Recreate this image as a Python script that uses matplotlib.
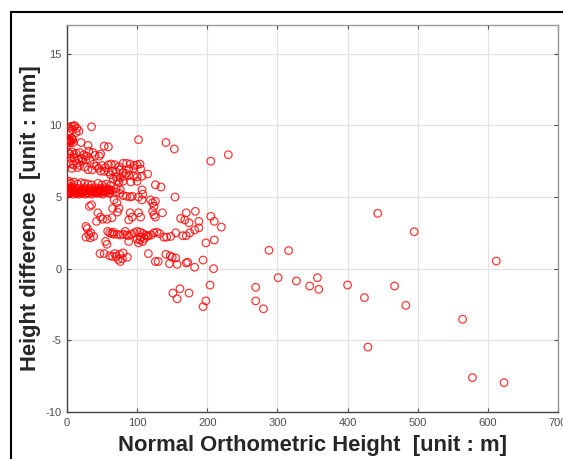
import matplotlib
matplotlib.use("Agg")
import matplotlib.pyplot as plt
from matplotlib.lines import Line2D

plt.rcParams["axes.unicode_minus"] = False

# ---- data: (normal orthometric height [m], height difference [mm]) ----
height_m = [
    # top band ~9.5-10
    3, 6, 9, 11, 14, 8, 13, 17, 4, 35,
    # ~9
    1, 2, 3, 5, 6, 8, 4, 2, 7, 9,
    20, 30, 53, 59, 102, 141, 153,
    # ~8
    2, 4, 7, 10, 13, 18, 24, 31, 37, 40, 46, 48, 28, 21, 16, 10, 4,
    # ~7-7.6
    2, 5, 9, 14, 18, 22, 27, 33, 38, 42, 45, 36, 30, 25, 15, 7,
    50, 55, 59, 63, 68, 74, 80, 85, 90, 96, 100, 104, 95, 88, 105,
    # ~6.6-6.9
    48, 53, 59, 65, 70, 75, 80, 84, 115, 62,
    # ~6.0-6.5
    70, 76, 82, 88, 95, 100, 107, 72, 74, 80, 91, 100, 66,
    # dense band ~5.2-6.0
    1, 3, 6, 10, 15, 20, 25, 30, 35, 44, 50, 56, 62,
    0, 1, 2, 3, 4, 5, 6, 7, 8, 9, 10, 12, 14, 15, 16, 18, 20, 22, 24, 25,
    27, 28, 30, 32, 33, 35, 37, 38, 40, 42, 43, 45, 47, 48, 50, 52, 54, 55,
    57, 58, 60, 62, 0, 2, 4, 6, 9, 11, 13, 17, 19, 21, 23, 26, 29, 31, 34,
    36, 39, 41, 44, 46, 49, 51, 53, 56, 59, 61,
    63, 70, 75, 80, 85, 90, 93, 70, 76,
    107, 108, 107, 102, 126, 134, 119, 122, 126, 124, 154,
    67, 71, 74, 32, 35,
    # ~3.3-4
    44, 48, 51, 57, 64, 65, 72, 42,
    90, 93, 102, 105, 88,
    122, 124, 126, 136,
    162, 168, 174, 183, 170, 188, 205, 210, 220,
    # ~2.2-3
    27, 29, 34, 38, 27, 33, 31,
    58, 61, 64, 67, 72, 76, 80, 85, 88, 92, 96, 100, 104, 108, 112, 116,
    120, 124, 128, 132, 138, 142, 148, 155, 66, 83, 105, 110, 114,
    165, 170, 182, 188, 198, 210, 175,
    55, 57, 88, 102, 104, 100, 108,
    # ~0-1.1
    47, 53, 61, 65, 70, 73, 76, 79, 86, 68, 75, 80, 116, 126, 130,
    141, 147, 150, 155, 146, 157, 170, 172, 182, 194, 209,
    # negatives
    151, 161, 157, 174, 204, 198, 194, 269, 269, 280, 301, 327, 346, 357,
    359, 400, 424, 467, 483, 429, 564, 578, 623,
    # far positives
    205, 230, 288, 316, 443, 495, 612,
]

diff_mm = [
    9.85, 9.93, 9.95, 9.98, 9.8, 9.7, 9.5, 9.6, 9.6, 9.9,
    9.0, 8.9, 9.05, 8.95, 8.85, 9.0, 8.8, 8.75, 9.1, 8.8,
    8.8, 8.6, 8.55, 8.5, 9.0, 8.8, 8.35,
    8.1, 8.0, 8.15, 7.95, 8.05, 8.1, 7.95, 8.2, 8.1, 7.9, 7.85, 8.0, 7.85, 7.7, 7.65, 7.75, 7.7,
    7.4, 7.3, 7.25, 7.35, 7.2, 7.5, 7.6, 7.55, 7.3, 7.15, 7.0, 6.9, 6.9, 7.1, 7.05, 7.0,
    7.2, 7.05, 7.25, 7.3, 7.25, 7.1, 7.35, 7.35, 7.3, 7.2, 7.25, 7.3, 7.0, 6.95, 6.95,
    6.8, 6.8, 6.75, 6.8, 6.75, 6.9, 6.7, 6.65, 6.6, 6.55,
    6.4, 6.35, 6.45, 6.5, 6.45, 6.4, 6.45, 6.15, 6.0, 6.1, 6.05, 6.1, 6.25,
    6.0, 6.1, 5.95, 6.05, 5.9, 6.0, 5.95, 5.9, 5.85, 5.95, 5.85, 5.9, 5.8,
    5.4, 5.6, 5.3, 5.5, 5.7, 5.4, 5.6, 5.35, 5.55, 5.45, 5.65, 5.4, 5.5,
    5.3, 5.6, 5.45, 5.35, 5.55, 5.4, 5.65, 5.5, 5.3, 5.45, 5.6, 5.4, 5.55,
    5.35, 5.5, 5.65, 5.4, 5.3, 5.55, 5.45, 5.6, 5.35, 5.5, 5.4, 5.65, 5.45,
    5.55, 5.3, 5.5, 5.2, 5.25, 5.45, 5.3, 5.2, 5.35, 5.25, 5.2, 5.3, 5.25,
    5.35, 5.2, 5.3, 5.25, 5.4, 5.2, 5.3, 5.35, 5.25, 5.45, 5.3, 5.2,
    5.4, 5.3, 5.5, 5.25,
    5.45, 5.35, 5.25, 5.1, 5.05, 5.0, 5.05, 5.6, 5.5,
    5.5, 5.2, 4.8, 5.0, 5.85, 5.7, 4.8, 4.6, 4.7, 4.35, 5.0,
    4.8, 4.6, 4.2, 4.35, 4.45,
    3.9, 3.6, 3.45, 3.45, 3.55, 4.2, 3.95, 3.3,
    3.9, 3.6, 3.9, 3.6, 3.4,
    4.0, 3.75, 3.6, 3.9,
    3.5, 3.4, 3.2, 4.0, 3.9, 3.3, 3.65, 3.3, 2.9,
    2.95, 2.8, 2.5, 2.25, 2.2, 2.15, 2.4,
    2.6, 2.5, 2.45, 2.4, 2.4, 2.35, 2.4, 2.35, 2.3, 2.4, 2.5, 2.6, 2.55, 2.45, 2.35, 2.3,
    2.35, 2.5, 2.55, 2.45, 2.2, 2.2, 2.25, 2.5, 2.55, 2.6, 2.2, 2.1, 2.25,
    2.3, 2.3, 2.7, 2.85, 1.8, 2.0, 2.5,
    1.9, 1.7, 1.9, 1.8, 2.0, 2.05, 1.9,
    1.05, 1.05, 0.9, 0.85, 0.85, 0.65, 0.5, 0.7, 0.8, 1.05, 1.0, 1.1, 1.05, 0.5, 0.5,
    1.0, 0.9, 0.8, 0.75, 0.35, 0.3, 0.4, 0.45, 0.1, 0.6, 0.0,
    -1.7, -1.4, -2.1, -1.7, -1.15, -2.25, -2.65, -1.3, -2.25, -2.8, -0.63, -0.86, -1.21, -0.63,
    -1.44, -1.14, -2.02, -1.21, -2.56, -5.47, -3.53, -7.6, -7.95,
    7.5, 7.95, 1.28, 1.26, 3.86, 2.58, 0.53,
]

x_ticks = [0, 100, 200, 300, 400, 500, 600, 700]
y_ticks = [-10, -5, 0, 5, 10, 15]
x_label = "Normal Orthometric Height  [unit : m]"
y_label = "Height difference  [unit : mm]"

W, H = 563, 459
fig = plt.figure(figsize=(W / 100, H / 100), dpi=100)
fig.patch.set_facecolor("white")

ax = fig.add_axes([67 / W, 1 - 412 / H, (558 - 67) / W, (412 - 25) / H])
ax.scatter(height_m, diff_mm, s=30, facecolors="none",
           edgecolors=(1, 0, 0, 0.78), linewidths=0.9, zorder=3)

ax.set_xlim(0, 700)
ax.set_ylim(-10, 17)
ax.set_xticks(x_ticks)
ax.set_yticks(y_ticks)
ax.grid(True, color="#e3e3e3", linewidth=0.9, zorder=0)
ax.tick_params(direction="in", length=3, width=0.8, colors="#4d4d4d",
               labelsize=8, top=True, right=True, pad=4)
for lab in ax.get_xticklabels() + ax.get_yticklabels():
    lab.set_fontfamily("Liberation Sans")
for side in ["left", "bottom"]:
    ax.spines[side].set_color("#444444")
    ax.spines[side].set_linewidth(1.0)
for side in ["top", "right"]:
    ax.spines[side].set_color("#999999")
    ax.spines[side].set_linewidth(1.0)

ax.set_xlabel(x_label, fontsize=15.8, fontweight="bold", family="Liberation Sans",
              color="#262626")
ax.xaxis.set_label_coords(0.5, -0.06)
ax.set_ylabel(y_label, fontsize=15.8, fontweight="bold", family="Liberation Sans",
              color="#262626")
ax.yaxis.set_label_coords(-0.052, 0.5)

# outer black frame (left & top edges visible)
fig.add_artist(Line2D([11 / W, 11 / W], [0, 1 - 12 / H], color="black",
                      linewidth=1.5, transform=fig.transFigure))
fig.add_artist(Line2D([11 / W, 1.0], [1 - 12 / H, 1 - 12 / H], color="black",
                      linewidth=1.5, transform=fig.transFigure))

fig.savefig("out.png", dpi=100)
